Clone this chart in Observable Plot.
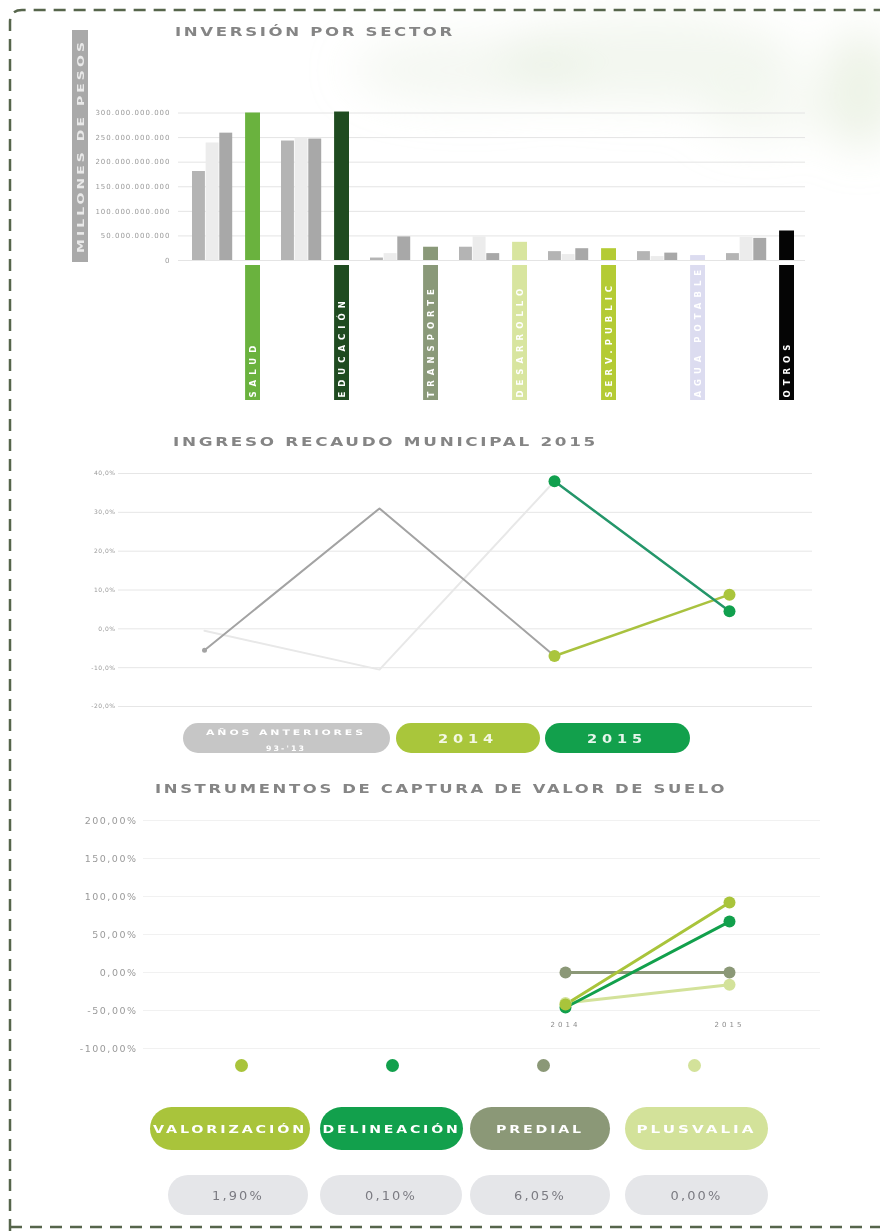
<!DOCTYPE html>
<html><head><meta charset="utf-8">
<script src="https://cdn.jsdelivr.net/npm/d3@7"></script>
<script src="https://cdn.jsdelivr.net/npm/@observablehq/plot@0.6"></script>
<style>
html,body{margin:0;padding:0;background:#fff;}
#page{position:relative;width:880px;height:1231px;overflow:hidden;background:#fff;font-family:"DejaVu Sans",sans-serif;}
.layer{position:absolute;left:0;}
.strips text{letter-spacing:5px;}
.ax1 text{letter-spacing:1px;}
.ax2 text{letter-spacing:0.5px;}
.ax3 text{letter-spacing:1.5px;}
.ax3 g[aria-label="x-axis tick label"] text{letter-spacing:3px;}
</style></head><body><div id="page"></div>
<script>
// ---------------- DATA ----------------
// Inversión por sector (pesos)
const sectores = ["SALUD","EDUCACIÓN","TRANSPORTE","DESARROLLO","SERV.PUBLIC","AGUA POTABLE","OTROS"];
const coloresSector = ["#6ab23e","#1f4b20","#8a9979","#d8e59f","#b4cb34","#dcdcf0","#050505"];
const anterior1 = [181e9, 243e9, 5e9, 27e9, 18e9, 18e9, 14e9];
const anterior2 = [239e9, 249e9, 14e9, 48e9, 12e9, 8e9, 47e9];
const anterior3 = [259e9, 247e9, 48e9, 14e9, 24e9, 15e9, 45e9];
const inversion2015 = [300e9, 302e9, 27e9, 37e9, 24e9, 10e9, 60e9];
const ticksInversion = [0, 50e9, 100e9, 150e9, 200e9, 250e9, 300e9];

// Ingreso recaudo municipal (%)
const periodos = ["2012","2013","2014","2015"];
const anteriores1 = [-5.5, 31.0, -7.0];      // periodos 0..2
const anteriores2 = [-0.5, -10.5, 38.0];     // periodos 0..2
const recaudo2014 = [-7.0, 8.8];             // periodos 2..3
const recaudo2015 = [38.0, 4.5];             // periodos 2..3
const ticksRecaudo = [-20, -10, 0, 10, 20, 30, 40];
const leyendaRecaudo = ["AÑOS ANTERIORES", "2014", "2015"];
const leyendaRecaudoSub = "93-'13";

// Instrumentos de captura de valor de suelo (%)
const instrumentos = ["VALORIZACIÓN","DELINEACIÓN","PREDIAL","PLUSVALIA"];
const coloresInstr = ["#a9c43b","#12a04c","#8b9877","#d3e29a"];
const anios = ["2014","2015"];
const valorizacion = [-42, 92];
const delineacion = [-46, 67];
const predial = [0, 0];
const plusvalia = [-40, -16];
const participacion = ["1,90%","0,10%","6,05%","0,00%"];
const ticksInstr = [-100, -50, 0, 50, 100, 150, 200];

// ---------------- HELPERS ----------------
const W = 880, H = 1231;
const page = document.getElementById("page");
const FONT = "DejaVu Sans, sans-serif";
function place(node, top, cls) {
  const d = document.createElement("div");
  d.className = "layer" + (cls ? " " + cls : "");
  d.style.top = top + "px";
  d.appendChild(node);
  page.appendChild(d);
}
const plotStyle = {background: "transparent", fontFamily: FONT, color: "#8c8c8c", overflow: "visible"};
const es = d3.formatLocale({decimal: ",", thousands: ".", grouping: [3], currency: ["$", ""]});
const fmtPesos = es.format(",");

// ---------------- DECORATION LAYER ----------------
const deco = d3.create("svg").attr("width", W).attr("height", H)
  .style("position", "absolute").style("left", 0).style("top", 0);
const defs = deco.append("defs");
defs.append("filter").attr("id", "blur").attr("x", "-50%").attr("y", "-50%").attr("width", "200%").attr("height", "200%")
  .append("feGaussianBlur").attr("stdDeviation", 22);
const wash = deco.append("g").attr("filter", "url(#blur)");
[[470, 70, 120, 35, "#dde8d3", 0.3], [650, 60, 150, 45, "#d8e5cc", 0.3], [860, 90, 40, 60, "#d2e1c4", 0.4], [760, 110, 60, 30, "#e0eAd6", 0.3]]
  .forEach(([cx, cy, rx, ry, c, o]) => wash.append("ellipse").attr("cx", cx).attr("cy", cy).attr("rx", rx).attr("ry", ry).attr("fill", c).attr("opacity", o));

// dashed frame
deco.append("path").attr("d", "M10,1231 V22 Q10,10 22,10 H880").attr("fill", "none")
  .attr("stroke", "#56654b").attr("stroke-width", 2.5).attr("stroke-dasharray", "12,8");
deco.append("path").attr("d", "M10,1227 H880").attr("fill", "none")
  .attr("stroke", "#56654b").attr("stroke-width", 2.5).attr("stroke-dasharray", "12,8");

function txt(s, o) {
  const t = deco.append("text").text(s)
    .attr("x", o.x).attr("y", o.y)
    .attr("font-family", FONT).attr("font-weight", o.weight || "bold")
    .attr("font-size", o.size).attr("fill", o.fill)
    .attr("text-anchor", o.anchor || "middle")
    .style("letter-spacing", (o.ls || 0) + "px");
  if (o.len) t.attr("textLength", o.len).attr("lengthAdjust", "spacingAndGlyphs");
  if (o.rotate) t.attr("transform", `rotate(${o.rotate},${o.x},${o.y})`);
  return t;
}
function pill(x, y, w, h, fill) {
  deco.append("rect").attr("x", x).attr("y", y).attr("width", w).attr("height", h)
    .attr("rx", h / 2).attr("fill", fill);
}

// titles
txt("INVERSIÓN POR SECTOR", {x: 175, y: 35.5, size: 12.5, fill: "#858585", anchor: "start", len: 280, ls: 2});
txt("INGRESO RECAUDO MUNICIPAL 2015", {x: 173, y: 445.5, size: 12.5, fill: "#858585", anchor: "start", len: 425, ls: 2});
txt("INSTRUMENTOS DE CAPTURA DE VALOR DE SUELO", {x: 155, y: 792.5, size: 12.5, fill: "#858585", anchor: "start", len: 572, ls: 2});

// y label bar chart 1
deco.append("rect").attr("x", 72).attr("y", 30).attr("width", 16).attr("height", 232).attr("fill", "#a9a9a9");
txt("MILLONES DE PESOS", {x: 83.5, y: 146, size: 9, fill: "#e9e9e9", len: 214, rotate: -90, ls: 2});

// legend pills chart 2
const pill2 = [[183, 207, "#c6c6c6"], [396, 144, "#a9c63b"], [545, 145, "#12a04c"]];
pill2.forEach(([x, w, c], i) => pill(x, 723, w, 30, c));
txt(leyendaRecaudo[0], {x: 286, y: 734.5, size: 7.5, fill: "#ffffff", len: 160, ls: 2});
txt(leyendaRecaudoSub, {x: 286, y: 751, size: 7.5, fill: "#ffffff", len: 40, ls: 2});
txt(leyendaRecaudo[1], {x: 468, y: 743, size: 12, fill: "#f4f8e4", len: 60, ls: 4});
txt(leyendaRecaudo[2], {x: 617, y: 743, size: 12, fill: "#e6f6ec", len: 60, ls: 4});

// legend pills chart 3
const pill3 = [[150, 160], [320, 143], [470, 140], [625, 143]];
const len3 = [154, 138, 88, 120];
pill3.forEach(([x, w], i) => {
  pill(x, 1107, w, 43, coloresInstr[i]);
  txt(instrumentos[i], {x: x + w / 2, y: 1133, size: 10, fill: "#ffffff", len: len3[i], ls: 2});
});
const pillV = [[168, 140], [320, 142], [470, 140], [625, 143]];
pillV.forEach(([x, w], i) => {
  pill(x, 1175, w, 40, "#e5e6e9");
  txt(participacion[i], {x: x + w / 2, y: 1200, size: 12, fill: "#7b7b82", len: 52, ls: 2, weight: "normal"});
});
page.appendChild(deco.node());

// ---------------- CHART 1: INVERSIÓN POR SECTOR ----------------
const filas = sectores.map((s, i) => ({sector: s, a1: anterior1[i], a2: anterior2[i], a3: anterior3[i], v15: inversion2015[i]}));
const X0 = 189, X1 = 796, PAD = 0.24;
const step = (X1 - X0) / (sectores.length - PAD);
const bw = step * (1 - PAD);
const slot = bw / 5;
const xBand = {type: "band", domain: sectores, range: [X0, X1], paddingInner: PAD, paddingOuter: 0, axis: null};
const colorSector = {domain: sectores, range: coloresSector};

const chart1 = Plot.plot({
  width: W, height: 270,
  marginLeft: 178, marginRight: 75, marginTop: 110, marginBottom: 10,
  style: plotStyle,
  x: xBand,
  y: {domain: [0, 300e9], range: [260, 112.5], axis: null},
  color: colorSector,
  marks: [
    Plot.gridY(ticksInversion, {stroke: "#e4e4e4", strokeOpacity: 1}),
    Plot.axisY({ticks: ticksInversion, tickFormat: d => fmtPesos(d), tickSize: 0, tickPadding: 8, fontSize: 7, fill: "#9a9a9a", label: null}),
    Plot.barY(filas, {x: "sector", y: "a1", fill: "#b4b4b4", insetLeft: 0, insetRight: bw - slot + 0.5}),
    Plot.barY(filas, {x: "sector", y: "a2", fill: "#ececec", insetLeft: slot, insetRight: bw - 2 * slot + 0.5}),
    Plot.barY(filas, {x: "sector", y: "a3", fill: "#a8a8a8", insetLeft: 2 * slot, insetRight: bw - 3 * slot + 0.5}),
    Plot.barY(filas, {x: "sector", y: "v15", fill: "sector", insetLeft: 4 * slot - 1.5, insetRight: 0})
  ]
});
place(chart1, 0, "ax1");

// category strips
const chart1b = Plot.plot({
  width: W, height: 140,
  marginLeft: 178, marginRight: 75, marginTop: 2, marginBottom: 3,
  style: plotStyle,
  x: xBand,
  y: {domain: [0, 1], range: [137, 2], axis: null},
  color: colorSector,
  marks: [
    Plot.barY(filas, {x: "sector", y: () => 1, fill: "sector", insetLeft: 4 * slot - 1.5, insetRight: 0}),
    Plot.text(filas, {x: "sector", y: () => 0, text: "sector", rotate: -90, textAnchor: "start",
      dx: 4.5 * slot - bw / 2 - 0.75, dy: -3, fill: "#ffffff", fontSize: 8.5, fontWeight: "bold"})
  ]
});
place(chart1b, 263, "strips");

// ---------------- CHART 2: INGRESO RECAUDO MUNICIPAL ----------------
const lA1 = anteriores1.map((v, i) => ({p: periodos[i], v}));
const lA2 = anteriores2.map((v, i) => ({p: periodos[i], v}));
const l14 = recaudo2014.map((v, i) => ({p: periodos[i + 2], v}));
const l15 = recaudo2015.map((v, i) => ({p: periodos[i + 2], v}));
const fmt1 = d => d.toFixed(1).replace(".", ",") + "%";

const chart2 = Plot.plot({
  width: W, height: 270,
  marginLeft: 118, marginRight: 68, marginTop: 18, marginBottom: 19,
  style: plotStyle,
  x: {type: "point", domain: periodos, range: [203, 730], padding: 0, axis: null},
  y: {domain: [-20, 40], range: [251, 18], axis: null},
  marks: [
    Plot.gridY(ticksRecaudo, {stroke: "#e6e6e6", strokeOpacity: 1}),
    Plot.axisY({ticks: ticksRecaudo, tickFormat: fmt1, tickSize: 0, tickPadding: 3, fontSize: 6, fill: "#9a9a9a", label: null}),
    Plot.line(lA2, {x: "p", y: "v", stroke: "#e8e8e8", strokeWidth: 2}),
    Plot.line(lA1, {x: "p", y: "v", stroke: "#a3a3a3", strokeWidth: 2}),
    Plot.dot(lA1.slice(0, 1), {x: "p", y: "v", fill: "#a3a3a3", r: 2.5}),
    Plot.line(l14, {x: "p", y: "v", stroke: "#a9c23f", strokeWidth: 2.5}),
    Plot.line(l15, {x: "p", y: "v", stroke: "#24966a", strokeWidth: 2.5}),
    Plot.dot(l14, {x: "p", y: "v", fill: "#aac53c", r: 6}),
    Plot.dot(l15, {x: "p", y: "v", fill: "#11a04e", r: 6})
  ]
});
place(chart2, 455, "ax2");

// ---------------- CHART 3: INSTRUMENTOS ----------------
const seriesInstr = [valorizacion, delineacion, predial, plusvalia];
const puntos = instrumentos.flatMap((ins, j) => seriesInstr[j].map((v, i) => ({ins, anio: anios[i], v})));
const orden = ["PLUSVALIA", "PREDIAL", "DELINEACIÓN", "VALORIZACIÓN"];
const fmt2 = d => d.toFixed(2).replace(".", ",") + "%";
const colorInstr = {domain: instrumentos, range: coloresInstr};

const chart3 = Plot.plot({
  width: W, height: 260,
  marginLeft: 143, marginRight: 60, marginTop: 20, marginBottom: 45,
  style: plotStyle,
  x: {type: "point", domain: anios, range: [565, 729], padding: 0, axis: null},
  y: {domain: [-100, 200], range: [248, 20], axis: null},
  color: colorInstr,
  marks: [
    Plot.gridY(ticksInstr, {stroke: "#f1f1f1", strokeOpacity: 1}),
    Plot.axisY({ticks: ticksInstr, tickFormat: fmt2, tickSize: 0, tickPadding: 6, fontSize: 9.5, fill: "#9a9a9a", label: null}),
    Plot.axisX({anchor: "bottom", tickSize: 0, tickPadding: 7, fontSize: 7, fill: "#8c8c8c", label: null}),
    ...orden.map(ins => Plot.line(puntos.filter(d => d.ins === ins), {x: "anio", y: "v", stroke: "ins", strokeWidth: 3})),
    ...orden.map(ins => Plot.dot(puntos.filter(d => d.ins === ins), {x: "anio", y: "v", fill: "ins", r: 6}))
  ]
});
place(chart3, 800, "ax3");

// legend dots
const chart3b = Plot.plot({
  width: W, height: 26,
  marginLeft: 143, marginRight: 60, marginTop: 0, marginBottom: 0,
  style: plotStyle,
  x: {type: "point", domain: instrumentos, range: [240, 694], padding: 0, axis: null},
  color: colorInstr,
  marks: [Plot.dot(instrumentos, {x: d => d, fill: d => d, r: 6.5})]
});
place(chart3b, 1052);
</script></body></html>
